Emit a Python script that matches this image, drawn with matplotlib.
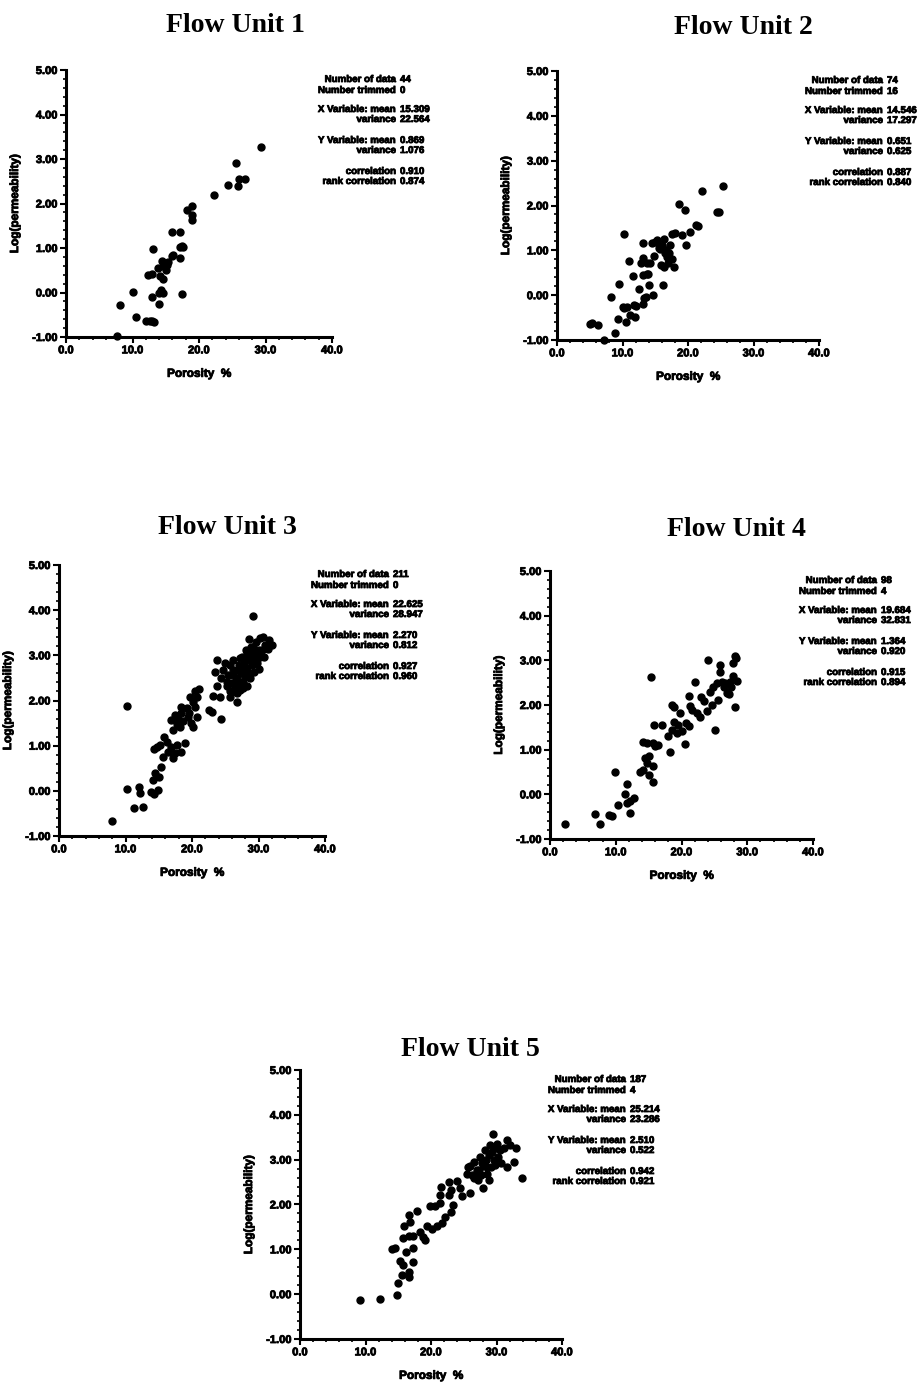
import matplotlib
matplotlib.use("Agg")
import matplotlib.pyplot as plt
import matplotlib.patheffects as pe
from matplotlib.ticker import MultipleLocator, FormatStrFormatter

W, H = 919, 1385

# ---- data ----
fu1_x = [7.7, 8.1, 10.1, 10.6, 12.1, 12.9, 13.2, 12.9, 12.4, 13.1, 14.0, 14.0, 14.6, 14.1, 14.6,
         13.9, 14.4, 15.0, 15.4, 14.6, 15.9, 16.1, 16.0, 17.2, 17.2, 17.1, 17.6, 17.5, 18.2, 19.0,
         19.0, 19.0, 22.3, 24.4, 25.6, 25.9, 26.0, 26.9, 29.3, 14.3, 13.0, 15.2, 17.4, 12.6]
fu1_y = [-0.98, -0.29, 0.01, -0.55, -0.65, -0.65, -0.66, -0.11, 0.39, 0.97, -0.25, -0.01, 0.0, 0.36, 0.31,
         0.55, 0.70, 0.51, 0.68, 0.60, 0.83, 0.85, 1.36, 1.35, 0.77, 1.02, 1.03, -0.04, 1.86, 1.95,
         1.75, 1.62, 2.18, 2.42, 2.92, 2.40, 2.55, 2.55, 3.28, 0.05, 0.42, 0.62, 1.04, -0.64]

fu2_x = [5.0, 5.3, 6.2, 7.2, 8.8, 8.3, 9.4, 9.3, 10.5, 10.2, 10.0, 10.7, 11.0, 11.2, 11.6, 11.8, 11.9,
         12.5, 13.1, 12.8, 13.2, 13.3, 13.6, 13.1, 13.2, 13.7, 13.7, 14.1, 14.6, 14.5, 14.9, 14.8,
         15.2, 15.7, 16.0, 15.9, 16.3, 16.2, 16.4, 16.6, 16.8, 17.0, 17.1, 17.3, 17.9, 17.5, 18.0,
         18.7, 19.1, 19.6, 19.7, 20.3, 21.2, 21.5, 22.1, 24.4, 24.7, 25.3,
         12.0, 13.9, 15.6, 16.1, 16.5, 14.2, 10.3, 17.6]
fu2_y = [-0.64, -0.61, -0.67, -1.0, -0.85, -0.04, 0.25, -0.54, -0.59, 1.36, -0.27, -0.26, 0.76, -0.45,
         0.42, -0.22, -0.48, 0.13, 1.17, 0.71, -0.19, -0.07, -0.04, 0.82, 0.45, 0.47, 0.71, 0.22, 0.0,
         1.17, 1.19, 0.88, 1.22, 1.02, 1.08, 0.67, 0.63, 0.22, 1.26, 1.00, 0.85, 0.71, 0.93, 1.11,
         0.62, 1.37, 1.39, 2.03, 1.34, 1.89, 1.11, 1.41, 1.57, 1.54, 2.32, 1.86, 1.86, 2.43,
         -0.25, 0.48, 1.05, 1.12, 0.95, 0.72, -0.28, 0.80]

fu3_x = [7.9, 10.2, 10.3, 11.3, 12.1, 12.2, 12.6, 13.9, 14.3, 14.9, 14.2, 14.4, 15.4, 15.1, 14.3,
         14.7, 15.2, 15.8, 16.2, 15.7, 16.4, 16.8, 17.2, 17.4, 17.7, 17.2, 16.9, 17.4, 17.7, 17.9,
         18.2, 18.4, 18.7, 18.3, 18.9, 18.4, 19.2, 19.4, 19.6, 19.9, 20.1, 20.4, 20.7, 21.1, 20.4,
         20.2, 20.7, 19.7, 22.6, 23.0, 23.2, 24.2, 23.7, 23.4, 23.8, 24.3, 24.4, 24.7, 24.9, 25.2,
         25.4, 25.7, 25.7, 25.9, 26.2, 26.2, 26.4, 26.7, 26.8, 27.0, 27.1, 27.3, 27.5, 27.6, 27.8,
         28.0, 28.1, 28.2, 28.3, 28.5, 28.6, 28.7, 28.8, 29.0, 29.1, 29.2, 29.3, 29.5, 29.6, 29.8,
         30.0, 30.1, 30.3, 30.5, 30.7, 30.8, 31.0, 31.5, 32.0, 31.6,
         25.3, 26.1, 26.8, 25.7, 27.2, 28.2, 27.7, 29.2, 28.6, 28.0, 27.5, 26.7, 26.5, 26.2, 29.7,
         30.2, 29.5, 28.8, 28.3, 27.2]
fu3_y = [-0.66, 1.88, 0.05, -0.37, 0.08, -0.05, -0.35, -0.02, -0.06, 0.02, 0.24, 0.40, 0.52, 0.31, 0.93,
         0.96, 1.02, 1.20, 1.09, 0.75, 0.87, 0.98, 0.72, 0.83, 1.02, 1.35, 1.57, 1.68, 1.49, 1.60,
         1.42, 1.72, 1.54, 1.86, 1.06, 0.87, 1.83, 1.64, 1.72, 1.51, 1.42, 1.86, 2.08, 2.25, 2.20,
         1.97, 1.64, 2.08, 1.80, 1.75, 2.10, 2.08, 2.32, 2.64, 2.90, 1.59, 2.49, 2.67, 2.82, 2.31,
         2.56, 2.20, 2.79, 2.38, 2.67, 2.90, 2.27, 2.49, 1.97, 2.79, 2.38, 2.60, 2.97, 2.42, 2.79,
         2.53, 3.12, 2.31, 2.71, 2.90, 3.36, 2.49, 3.05, 2.79, 3.86, 3.19, 2.64, 2.97, 3.30, 2.82,
         3.12, 2.69, 3.38, 3.12, 3.41, 2.97, 3.23, 3.14, 3.23, 3.34,
         2.42, 2.56, 2.16, 2.08, 2.23, 2.60, 2.27, 2.86, 2.97, 2.90, 2.75, 2.67, 2.42, 2.20, 3.01,
         2.97, 3.12, 3.19, 3.08, 2.93]

fu4_x = [2.3, 6.9, 7.6, 9.0, 9.4, 9.9, 10.3, 11.4, 11.7, 11.7, 12.2, 12.2, 12.7, 13.7, 14.2, 14.5,
         14.7, 15.1, 15.1, 15.6, 15.7, 15.3, 14.2, 14.7, 15.7, 16.0, 16.5, 15.8, 17.1, 18.3, 18.5,
         17.9, 18.5, 18.9, 18.8, 19.3, 19.5, 19.8, 20.1, 20.5, 20.7, 21.1, 21.2, 21.3, 21.6, 22.1,
         22.3, 22.8, 23.0, 23.4, 23.9, 24.1, 24.3, 24.6, 24.8, 25.1, 25.4, 25.6, 25.9, 25.9, 26.1,
         26.4, 26.6, 26.9, 27.2, 27.4, 27.8, 27.9, 28.2, 28.3, 28.2, 28.5, 27.6]
fu4_y = [-0.66, -0.44, -0.66, -0.46, -0.49, 0.50, -0.23, 0.01, 0.24, -0.19, -0.42, -0.16, -0.08, 0.51,
         0.55, 0.81, 0.70, 0.85, 0.44, 0.28, 0.63, 2.62, 1.18, 1.15, 1.16, 1.09, 1.11, 1.56, 1.56,
         0.94, 1.99, 1.30, 1.44, 1.63, 1.96, 1.38, 1.56, 1.82, 1.41, 1.12, 1.60, 1.54, 2.20, 1.98,
         1.89, 2.52, 1.82, 1.74, 2.19, 2.08, 1.86, 3.01, 2.28, 2.00, 2.41, 1.43, 2.49, 2.12, 2.90,
         2.75, 2.52, 2.41, 2.49, 2.26, 2.25, 2.52, 2.64, 2.93, 3.10, 3.05, 1.95, 2.54, 2.41]

fu5_x = [9.2, 12.2, 14.8, 15.0, 15.5, 15.3, 15.8, 16.6, 16.7, 17.3, 16.2, 14.0, 14.5, 15.8, 16.6, 17.2,
         17.3, 15.9, 16.8, 16.7, 17.8, 18.3, 18.8, 19.1, 19.4, 20.1, 20.9, 21.7, 19.9, 20.6, 21.3,
         21.4, 21.5, 22.2, 23.0, 23.4, 22.7, 23.0, 22.7, 24.0, 24.5, 24.7, 26.0, 25.5, 26.0, 26.5,
         26.5, 27.0, 27.1, 27.5, 27.6, 27.9, 28.1, 28.4, 28.6, 28.8, 28.9, 29.1, 29.5, 29.6, 29.8,
         30.1, 30.3, 30.6, 30.7, 31.6, 31.6, 32.1, 32.6, 33.0, 33.9, 28.3, 29.3, 29.8, 27.4, 26.8,
         26.3, 25.7, 29.0, 31.1, 28.5, 27.8]
fu5_y = [-0.13, -0.11, -0.01, 0.26, 0.43, 0.73, 0.65, 0.50, 0.39, 0.71, 0.93, 1.00, 1.02, 1.25, 1.29,
         1.29, 1.02, 1.53, 1.60, 1.77, 1.86, 1.39, 1.28, 1.21, 1.51, 1.46, 1.53, 1.58, 1.96, 1.96,
         2.03, 2.21, 2.38, 1.73, 1.84, 1.99, 2.21, 2.32, 2.51, 2.53, 2.36, 2.18, 2.25, 2.69, 2.86,
         2.95, 2.58, 2.77, 2.55, 3.06, 2.66, 2.36, 2.86, 2.99, 2.69, 2.55, 3.10, 2.84, 3.58, 2.99,
         3.25, 3.36, 3.06, 3.21, 2.92, 2.83, 3.44, 3.32, 2.95, 3.25, 2.60, 3.21, 3.17, 2.88, 2.77,
         2.69, 2.66, 2.84, 3.32, 3.25, 2.84, 2.92]

stat_labels = ["Number of data", "Number trimmed", "X Variable: mean", "variance",
               "Y Variable: mean", "variance", "correlation", "rank correlation"]
fu1_stats = ["44", "0", "15.309", "22.564", "0.869", "1.076", "0.910", "0.874"]
fu2_stats = ["74", "16", "14.546", "17.297", "0.651", "0.625", "0.887", "0.840"]
fu3_stats = ["211", "0", "22.625", "28.947", "2.270", "0.812", "0.927", "0.960"]
fu4_stats = ["98", "4", "19.684", "32.831", "1.364", "0.920", "0.915", "0.894"]
fu5_stats = ["187", "4", "25.214", "23.286", "2.510", "0.522", "0.942", "0.921"]

titles = ["Flow Unit 1", "Flow Unit 2", "Flow Unit 3", "Flow Unit 4", "Flow Unit 5"]

# pixel boxes (left, top, right, bottom) and title centres
boxes = [(66, 70, 332, 337), (557, 71, 819, 340), (59, 565, 325, 836),
         (550, 571, 813, 839), (300, 1070, 562, 1339)]
title_pos = [(235, 25), (743, 27), (227, 527), (736, 530), (470, 1050)]
row_off = [9, 20, 39, 49, 70, 80, 101, 111]

plt.rcParams['font.family'] = ['Liberation Sans', 'DejaVu Sans']
plt.rcParams['font.weight'] = 'bold'

# scanned print look: thicken small text a little
heavy = [pe.withStroke(linewidth=0.6, foreground='black')]

fig = plt.figure(figsize=(W / 100, H / 100), dpi=100)


def fx(px):
    return px / W


def fy(py):
    return 1 - py / H


panels = [(fu1_x, fu1_y, fu1_stats), (fu2_x, fu2_y, fu2_stats), (fu3_x, fu3_y, fu3_stats),
          (fu4_x, fu4_y, fu4_stats), (fu5_x, fu5_y, fu5_stats)]

for i, (xs, ys, st) in enumerate(panels):
    l, t, r, b = boxes[i]
    ax = fig.add_axes([fx(l), fy(b), (r - l) / W, (b - t) / H])
    ax.plot(xs, ys, 'o', color='black', markersize=5.0, linestyle='none', clip_on=False)
    ax.set_xlim(0, 40)
    ax.set_ylim(-1, 5)
    for s in ['top', 'right']:
        ax.spines[s].set_visible(False)
    for s in ['left', 'bottom']:
        ax.spines[s].set_linewidth(2.2)
    ax.xaxis.set_major_locator(MultipleLocator(10))
    ax.xaxis.set_minor_locator(MultipleLocator(2))
    ax.yaxis.set_major_locator(MultipleLocator(1))
    ax.yaxis.set_minor_locator(MultipleLocator(0.2))
    ax.xaxis.set_major_formatter(FormatStrFormatter('%.1f'))
    ax.yaxis.set_major_formatter(FormatStrFormatter('%.2f'))
    ax.tick_params(axis='both', which='major', direction='out', length=4, width=1.5,
                   labelsize=8, pad=2)
    ax.tick_params(axis='both', which='minor', direction='out', length=2.5, width=1.2)
    for lab in ax.get_xticklabels() + ax.get_yticklabels():
        lab.set_fontweight('bold')
        lab.set_path_effects(heavy)
    xl = ax.set_xlabel('Porosity  %', fontsize=8.5, fontweight='bold', labelpad=9)
    yl = ax.set_ylabel('Log(permeability)', fontsize=8.5, fontweight='bold', labelpad=8)
    xl.set_path_effects(heavy)
    yl.set_path_effects(heavy)

    tx, ty = title_pos[i]
    fig.text(fx(tx), fy(ty), titles[i], ha='center', va='center', fontsize=20,
             fontweight='bold', family=['Liberation Serif', 'DejaVu Serif'])

    for lab, val, off in zip(stat_labels, st, row_off):
        yy = fy(t + off)
        fig.text(fx(r + 64), yy, lab, ha='right', va='center', fontsize=7, fontweight='bold',
                 path_effects=heavy)
        fig.text(fx(r + 68), yy, val, ha='left', va='center', fontsize=7, fontweight='bold',
                 path_effects=heavy)

fig.savefig('out.png', dpi=100, facecolor='white')
